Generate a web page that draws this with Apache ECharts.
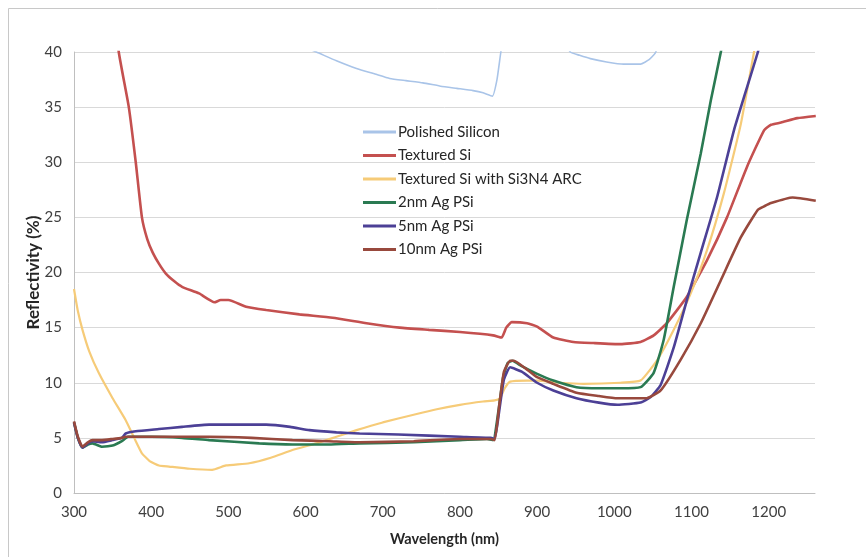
<!DOCTYPE html>
<html>
<head>
<meta charset="utf-8">
<title>Reflectivity vs Wavelength</title>
<script src="https://cdn.jsdelivr.net/npm/echarts@6/dist/echarts.min.js"></script>
<style>
  html, body { margin: 0; padding: 0; background: #ffffff; }
  #chart { width: 866px; height: 557px; }
</style>
</head>
<body>
<div id="chart"></div>
<script>
// Reflectivity spectra, [wavelength (nm), reflectivity (%)]
const seriesNames = [
  'Polished Silicon',
  'Textured Si',
  'Textured Si with Si3N4 ARC',
  '2nm Ag PSi',
  '5nm Ag PSi',
  '10nm Ag PSi'
];

const polishedSi = [
  [580, 41.0], [614, 40.0], [640, 39.2], [666, 38.5], [690, 38.0], [709, 37.6],
  [730, 37.4], [752, 37.2], [775, 36.9], [796, 36.7], [817, 36.5], [830, 36.3],
  [842, 36.0], [848, 37.5], [853, 40.0], [860, 43.0], [900, 44.0], [930, 41.5],
  [943, 40.0], [955, 39.7], [969, 39.4], [990, 39.1], [1012, 38.9], [1034, 38.9],
  [1045, 39.3], [1053, 39.9], [1062, 41.5]
];

const texturedSi = [
  [350, 46.0], [358, 40.0], [371, 35.0], [380, 30.0], [388, 25.0], [395, 23.0],
  [402, 21.8], [410, 20.8], [419, 19.9], [430, 19.2], [440, 18.7], [462, 18.1],
  [482, 17.3], [490, 17.5], [500, 17.5], [523, 16.9], [549, 16.6], [592, 16.2],
  [635, 15.9], [679, 15.4], [722, 15.0], [760, 14.8], [800, 14.6], [843, 14.3],
  [854, 14.1], [860, 15.0], [867, 15.5], [887, 15.4], [900, 15.1], [921, 14.1],
  [947, 13.7], [973, 13.6], [1008, 13.5], [1034, 13.7], [1051, 14.3], [1068, 15.4],
  [1094, 17.8], [1120, 21.1], [1146, 25.0], [1172, 29.6], [1194, 32.9], [1203, 33.4],
  [1216, 33.6], [1237, 34.0], [1261, 34.2]
];

const texturedArc = [
  [300, 18.5], [305, 16.5], [311, 14.8], [320, 12.8], [332, 10.9], [350, 8.6],
  [367, 6.6], [378, 5.0], [388, 3.6], [398, 2.9], [410, 2.5], [423, 2.4],
  [450, 2.2], [479, 2.1], [497, 2.5], [527, 2.7], [555, 3.2], [583, 3.9],
  [614, 4.5], [640, 5.1], [666, 5.7], [700, 6.4], [740, 7.1], [770, 7.6],
  [800, 8.0], [830, 8.3], [845, 8.4], [852, 8.6], [858, 9.5], [865, 10.1],
  [887, 10.2], [900, 10.2], [930, 10.0], [960, 9.9], [1008, 10.0], [1034, 10.2],
  [1056, 12.1], [1077, 14.8], [1099, 18.1], [1120, 22.0], [1142, 27.2], [1164, 33.5],
  [1181, 40.0], [1195, 45.0]
];

const ag2nm = [
  [300, 6.4], [305, 5.0], [311, 4.1], [318, 4.4], [324, 4.5], [336, 4.2],
  [350, 4.3], [362, 4.7], [370, 5.1], [400, 5.1], [440, 5.0], [475, 4.8],
  [540, 4.5], [583, 4.4], [630, 4.4], [670, 4.5], [740, 4.6], [800, 4.8],
  [835, 4.9], [843, 4.8], [850, 7.5], [856, 10.5], [862, 11.8], [868, 12.0],
  [880, 11.5], [900, 10.8], [921, 10.2], [951, 9.6], [980, 9.5], [1008, 9.5],
  [1034, 9.6], [1051, 10.9], [1064, 13.9], [1077, 18.7], [1094, 24.8], [1112, 30.8],
  [1125, 35.6], [1138, 40.0], [1145, 43.0]
];

const ag5nm = [
  [300, 6.4], [305, 5.0], [311, 4.1], [318, 4.5], [324, 4.7], [336, 4.6],
  [350, 4.8], [362, 5.0], [367, 5.4], [380, 5.6], [410, 5.8], [440, 6.0],
  [475, 6.2], [510, 6.2], [549, 6.2], [580, 6.0], [605, 5.7], [640, 5.5],
  [670, 5.4], [720, 5.3], [800, 5.1], [840, 5.0], [845, 4.9], [851, 7.5],
  [857, 10.3], [865, 11.4], [880, 11.0], [900, 10.0], [921, 9.3], [951, 8.6],
  [980, 8.2], [1004, 8.0], [1034, 8.2], [1047, 8.7], [1060, 9.8], [1077, 13.2],
  [1094, 17.5], [1112, 21.8], [1133, 26.8], [1155, 32.9], [1186, 40.0], [1195, 42.5]
];

const ag10nm = [
  [300, 6.5], [305, 5.1], [311, 4.2], [318, 4.6], [324, 4.8], [336, 4.8],
  [350, 4.9], [362, 5.0], [367, 5.1], [400, 5.1], [440, 5.1], [475, 5.1],
  [530, 5.0], [583, 4.8], [630, 4.7], [670, 4.6], [740, 4.7], [800, 4.9],
  [840, 4.9], [845, 4.8], [851, 8.0], [857, 11.0], [865, 12.0], [870, 12.0],
  [885, 11.3], [900, 10.5], [921, 9.9], [951, 9.1], [980, 8.8], [1004, 8.6],
  [1042, 8.6], [1060, 9.3], [1086, 12.1], [1112, 15.4], [1138, 19.3], [1164, 23.2],
  [1186, 25.7], [1194, 26.0], [1203, 26.3], [1231, 26.8], [1261, 26.5]
];

const seriesData = [polishedSi, texturedSi, texturedArc, ag2nm, ag5nm, ag10nm];
const seriesColors = ['#a9c4e8', '#c4504f', '#f6cb78', '#2a7a52', '#4c4096', '#98493d'];
const seriesWidths = [1.6, 2.6, 2.2, 2.6, 2.6, 2.6];

const xTicks = { min: 300, max: 1260, step: 100 };
const yTicks = { min: 0, max: 40, step: 5 };

const FONT = 'Lato, "Open Sans", sans-serif';

const chart = echarts.init(document.getElementById('chart'), null, { renderer: 'canvas' });

chart.setOption({
  backgroundColor: '#ffffff',
  animation: false,
  graphic: [{
    type: 'rect',
    shape: { x: 8.5, y: 8.5, width: 880, height: 580 },
    style: { fill: 'none', stroke: '#c8c8c8', lineWidth: 1 },
    silent: true
  }],
  grid: { left: 74, top: 52, right: 51, bottom: 64, containLabel: false },
  legend: {
    orient: 'vertical',
    left: 358,
    top: 118,
    icon: 'rect',
    itemWidth: 33,
    itemHeight: 3,
    itemGap: 5.5,
    textStyle: { fontFamily: FONT, fontSize: 15, color: '#262626', lineHeight: 18, padding: [0, 0, 0, -3] },
    data: seriesNames
  },
  xAxis: {
    type: 'value',
    min: xTicks.min,
    max: xTicks.max,
    interval: xTicks.step,
    name: 'Wavelength (nm)',
    nameLocation: 'middle',
    nameGap: 39,
    nameMoveOverlap: false,
    nameTextStyle: { fontFamily: FONT, fontSize: 14.5, fontWeight: 'bold', color: '#262626' },
    axisLine: { show: true, lineStyle: { color: '#bfbfbf', width: 1 } },
    axisTick: { show: false },
    splitLine: { show: false },
    axisLabel: {
      fontFamily: FONT, fontSize: 15, color: '#404040', margin: 12,
      showMaxLabel: false,
      formatter: v => (v % xTicks.step === 0 ? String(v) : '')
    }
  },
  yAxis: {
    type: 'value',
    min: yTicks.min,
    max: yTicks.max,
    interval: yTicks.step,
    name: 'Reflectivity (%)',
    nameLocation: 'middle',
    nameGap: 32,
    nameMoveOverlap: false,
    nameRotate: 90,
    nameTextStyle: { fontFamily: FONT, fontSize: 17, fontWeight: 'bold', color: '#262626' },
    axisLine: { show: true, lineStyle: { color: '#bfbfbf', width: 1 } },
    axisTick: { show: false },
    splitLine: { show: true, lineStyle: { color: '#d9d9d9', width: 1 } },
    axisLabel: { fontFamily: FONT, fontSize: 15, color: '#404040', margin: 12 }
  },
  series: seriesNames.map((name, i) => ({
    name,
    type: 'line',
    data: seriesData[i],
    showSymbol: false,
    symbol: 'none',
    smooth: 0.15,
    clip: true,
    color: seriesColors[i],
    lineStyle: { color: seriesColors[i], width: seriesWidths[i] },
    z: i === 0 ? 1 : 2 + i
  }))
});
</script>
</body>
</html>
